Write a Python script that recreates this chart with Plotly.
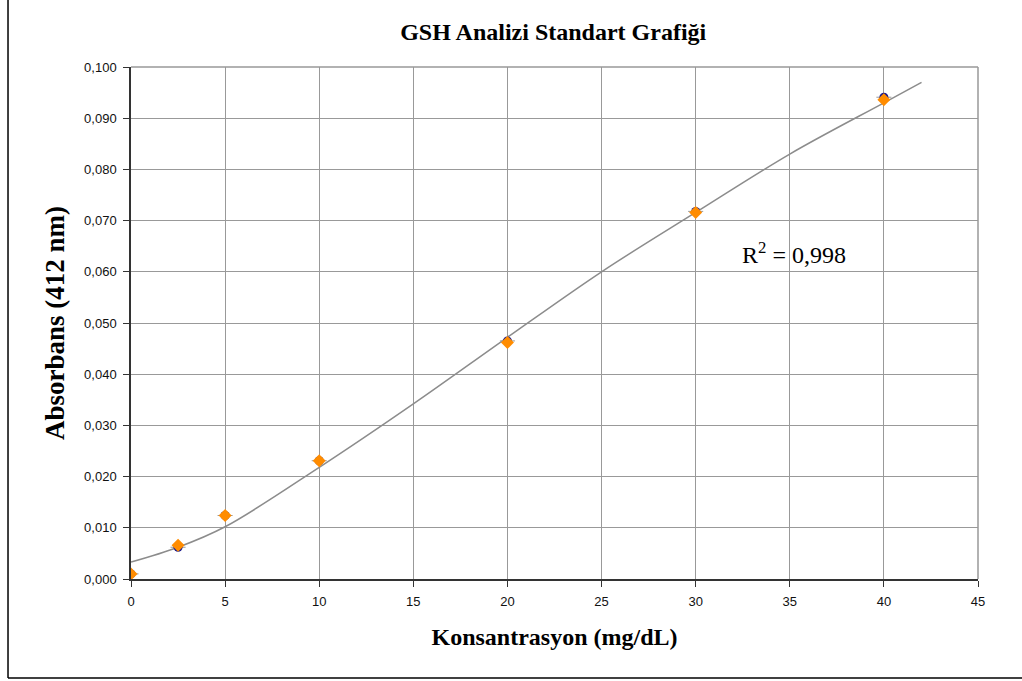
import plotly.graph_objects as go

conc = [0, 2.5, 5, 10, 20, 30, 40]
abs_orange = [0.0010, 0.0066, 0.0124, 0.0231, 0.0462, 0.0716, 0.0936]
abs_blue = [0.0010, 0.0062, 0.0124, 0.0231, 0.0465, 0.0718, 0.0941]

trend_x = [0, 2.5, 5, 10, 15, 20, 25, 30, 35, 40, 42]
trend_y = [0.0033, 0.0062, 0.0102, 0.0218, 0.0342, 0.0472, 0.0600, 0.0716, 0.0830, 0.0930, 0.0970]

x_ticks = [0, 5, 10, 15, 20, 25, 30, 35, 40, 45]
y_ticks = [0.0, 0.01, 0.02, 0.03, 0.04, 0.05, 0.06, 0.07, 0.08, 0.09, 0.10]

fig = go.Figure()
fig.add_trace(go.Scatter(x=trend_x, y=trend_y, mode="lines", line=dict(color="#8c8c8c", width=1.5, shape="spline"),
                         hoverinfo="skip", showlegend=False))
fig.add_trace(go.Scatter(x=conc, y=abs_blue, mode="markers",
                         marker=dict(symbol="circle", size=9, color="#1a1a8c"),
                         error_x=dict(type="constant", value=0.4, color="#999999", thickness=1, width=0),
                         showlegend=False))
fig.add_trace(go.Scatter(x=conc, y=abs_orange, mode="markers",
                         marker=dict(symbol="diamond", size=10, color="#ff8c00"),
                         showlegend=False))

fig.add_annotation(x=35.2, y=0.0637, xref="x", yref="y", text="R<sup>2</sup> = 0,998", showarrow=False,
                   font=dict(family="Liberation Serif", size=24, color="#000000"))

# outer frame lines (left and bottom)
fig.add_shape(type="line", xref="paper", yref="paper", x0=-0.1452, x1=-0.1452, y0=-0.1934, y1=1.14,
              line=dict(color="#000000", width=1.5))
fig.add_shape(type="line", xref="paper", yref="paper", x0=-0.1452, x1=1.06, y0=-0.1934, y1=-0.1934,
              line=dict(color="#000000", width=1.5))

fig.update_layout(
    width=1022, height=681,
    margin=dict(l=131, r=44, t=67, b=102),
    paper_bgcolor="white", plot_bgcolor="white",
    separators=",.",
    title=dict(text="<b>GSH Analizi Standart Grafiği</b>", x=0.5413, xanchor="center", y=0.953, yanchor="middle",
               font=dict(family="Liberation Serif", size=24, color="#000000")),
    xaxis=dict(range=[0, 45], tickvals=x_ticks, showgrid=True, gridcolor="#999999", gridwidth=1,
               showline=True, linecolor="#333333", linewidth=1.5, mirror=False,
               ticks="outside", ticklen=6, tickcolor="#333333", zeroline=False, ticklabelstandoff=4,
               tickfont=dict(family="Liberation Sans", size=13, color="#111111"),
               title=dict(text="<b>Konsantrasyon (mg/dL)</b>", standoff=20,
                          font=dict(family="Liberation Serif", size=24, color="#000000"))),
    yaxis=dict(range=[0, 0.1], tickvals=y_ticks, tickformat=".3f", showgrid=True, gridcolor="#999999", gridwidth=1,
               showline=True, linecolor="#333333", linewidth=1.5,
               ticks="outside", ticklen=6, tickcolor="#333333", zeroline=False, ticklabelstandoff=4,
               tickfont=dict(family="Liberation Sans", size=13, color="#111111"),
               title=dict(text="<b>Absorbans (412 nm)</b>", standoff=12,
                          font=dict(family="Liberation Serif", size=27, color="#000000"))),
)
fig.add_shape(type="line", xref="paper", yref="paper", x0=0, x1=1, y0=1, y1=1, line=dict(color="#999999", width=1.5))
fig.add_shape(type="line", xref="paper", yref="paper", x0=1, x1=1, y0=0, y1=1, line=dict(color="#999999", width=1.5))

fig.write_html("out.html")
